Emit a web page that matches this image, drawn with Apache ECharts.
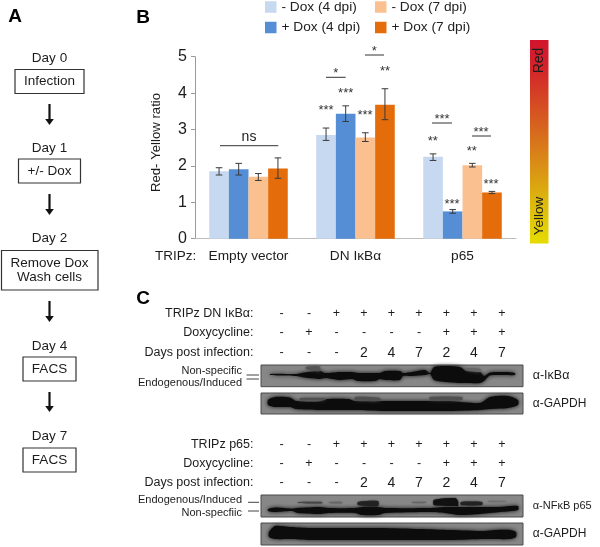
<!DOCTYPE html>
<html><head><meta charset="utf-8">
<style>html,body{margin:0;padding:0;background:#fff}#c{width:600px;height:547px}</style>
<script src="https://cdn.jsdelivr.net/npm/echarts@6/dist/echarts.min.js"></script>
</head><body><div id="c"></div>
<script>
const categories = ['Empty vector', 'DN IκBα', 'p65'];
const seriesNames = ['- Dox (4 dpi)', '+ Dox (4 dpi)', '- Dox (7 dpi)', '+ Dox (7 dpi)'];
const seriesColors = ['#c6d9f0', '#558ed5', '#fac090', '#e46c0a'];
const minusDox4 = [1.85, 2.85, 2.25];
const plusDox4 = [1.91, 3.43, 0.75];
const minusDox7 = [1.70, 2.78, 2.02];
const plusDox7 = [1.93, 3.68, 1.27];
const values = [minusDox4, plusDox4, minusDox7, plusDox7];
const lowMinus4 = [1.75, 2.70, 2.15], highMinus4 = [1.95, 3.04, 2.33];
const lowPlus4 = [1.75, 3.22, 0.70], highPlus4 = [2.07, 3.65, 0.80];
const lowMinus7 = [1.60, 2.67, 1.97], highMinus7 = [1.79, 2.91, 2.07];
const lowPlus7 = [1.66, 3.27, 1.24], highPlus7 = [2.22, 4.12, 1.30];
const lows = [lowMinus4, lowPlus4, lowMinus7, lowPlus7];
const highs = [highMinus4, highPlus4, highMinus7, highPlus7];
const yTicks = [0, 1, 2, 3, 4, 5];
const row1Iκ = ['-', '-', '+', '+', '+', '+', '+', '+', '+'];
const rowDox = ['-', '+', '-', '-', '-', '-', '+', '+', '+'];
const rowDays = ['-', '-', '-', '2', '4', '7', '2', '4', '7'];

const FONT = '"Liberation Sans", Arial, sans-serif';
const INK = '#1c1c1c';
const g = [];
function T(x, y, text, size, align, extra) {
  g.push(Object.assign({ type: 'text', x, y, silent: true, style: {
    text, fontFamily: FONT, fontSize: size, fill: INK, align: align || 'center', verticalAlign: 'middle'
  } }, extra && extra.el || {}));
  if (extra && extra.style) Object.assign(g[g.length - 1].style, extra.style);
}
function L(x1, y1, x2, y2, w, c) {
  g.push({ type: 'line', silent: true, shape: { x1, y1, x2, y2 }, style: { stroke: c || '#2a2a2a', lineWidth: w || 1 } });
}
function R(x1, y1, x2, y2, fill, stroke, w) {
  g.push({ type: 'rect', silent: true, shape: { x: x1, y: y1, width: x2 - x1, height: y2 - y1 },
    style: { fill: fill || '#fff', stroke: stroke || '#2f2f2f', lineWidth: w || 1 } });
}
// Panel letters
T(15, 17, 'A', 19, 'center', { style: { fontWeight: 'bold', fill: '#000' } });
T(143, 18, 'B', 19, 'center', { style: { fontWeight: 'bold', fill: '#000' } });
T(143, 299, 'C', 19, 'center', { style: { fontWeight: 'bold', fill: '#000' } });

// Panel A flow
const flow = [
  { day: 'Day 0', dy: 58, box: [15, 69.5, 84, 93.5], lines: ['Infection'] },
  { day: 'Day 1', dy: 148, box: [18.5, 159, 80.5, 183], lines: ['+/- Dox'] },
  { day: 'Day 2', dy: 238, box: [1.5, 250.5, 98, 290], lines: ['Remove Dox', 'Wash cells'] },
  { day: 'Day 4', dy: 346, box: [23, 357, 76, 381], lines: ['FACS'] },
  { day: 'Day 7', dy: 436, box: [23, 448, 76, 472], lines: ['FACS'] }
];
flow.forEach(f => {
  T(49.5, f.dy, f.day, 13.5);
  R(f.box[0], f.box[1], f.box[2], f.box[3], '#fff', '#333', 1.2);
  const cy = (f.box[1] + f.box[3]) / 2;
  if (f.lines.length === 1) T(49.5, cy, f.lines[0], 13.5);
  else { T(49.5, cy - 7, f.lines[0], 13.5); T(49.5, cy + 7, f.lines[1], 13.5); }
});
[[104, 125], [194, 215], [301, 322], [392, 412]].forEach(a => {
  L(49.5, a[0], 49.5, a[1] - 4, 2.2, '#111');
  g.push({ type: 'polygon', silent: true, shape: { points: [[45.2, a[1] - 6], [53.8, a[1] - 6], [49.5, a[1]]] }, style: { fill: '#111' } });
});

// Panel B extras
T(155, 256.5, 'TRIPz:', 13.5, 'left');
T(156, 142.5, 'Red- Yellow ratio', 13.2, 'center', { el: { rotation: Math.PI / 2 } });
const stars = [
  [335.7, 73, '*'], [374.3, 51, '*'], [385, 71, '**'], [345.7, 93, '***'], [326, 110, '***'], [365, 115, '***'],
  [442, 119, '***'], [481, 132, '***'], [432.7, 141, '**'], [471.7, 151, '**'], [452, 204, '***'], [491, 184, '***']
];
stars.forEach(s => T(s[0], s[1], s[2], 13, 'center', { style: { fill: '#333' } }));
T(249, 137, 'ns', 14);
[[220, 278.3, 145.7], [326, 345.7, 77.3], [365, 384, 55], [432, 452, 123], [472, 491, 136]].forEach(l => L(l[0], l[2], l[1], l[2], 1, '#333'));

// Colour scale
g.push({ type: 'rect', silent: true, shape: { x: 530, y: 40, width: 18.5, height: 203.5 }, style: {
  fill: { type: 'linear', x: 0, y: 0, x2: 0, y2: 1, colorStops: [
    { offset: 0, color: '#d2142d' }, { offset: 0.15, color: '#d3262a' }, { offset: 0.5, color: '#d8741b' },
    { offset: 0.78, color: '#dcb40e' }, { offset: 1, color: '#e6dc00' }] } } });
T(539, 60.5, 'Red', 14, 'center', { el: { rotation: Math.PI / 2 } });
T(539, 216, 'Yellow', 13.5, 'center', { el: { rotation: Math.PI / 2 } });

// Panel C
const laneX = [281.7, 309, 336.5, 364, 391.5, 419, 446.5, 474, 502];
function rows(title, ys) {
  T(253.5, ys[0], title, 12.5, 'right');
  T(253.5, ys[1], 'Doxycycline:', 12.5, 'right');
  T(253.5, ys[2], 'Days post infection:', 12.5, 'right');
  laneX.forEach((x, i) => {
    T(x, ys[0], row1Iκ[i], 12.5);
    T(x, ys[1], rowDox[i], 12.5);
    T(x, ys[2], rowDays[i], rowDays[i] === '-' ? 12.5 : 14);
  });
}
rows('TRIPz DN IκBα:', [314, 333, 352.7]);
rows('TRIPz p65:', [444.3, 463.7, 482.7]);

function blotBg(y1, y2) {
  g.push({ type: 'rect', silent: true, shape: { x: 261, y: y1, width: 262, height: y2 - y1 },
    style: { fill: '#878787', stroke: '#4a4a4a', lineWidth: 1 } });
}
function band(pts, color, blur) {
  const top = pts.map(p => [p[0], p[1]]);
  const bot = pts.map(p => [p[0], p[2]]).reverse();
  g.push({ type: 'polygon', silent: true, shape: { points: top.concat(bot), smooth: 0.25 },
    style: { fill: color || '#0c0c0c', shadowBlur: blur == null ? 4 : blur, shadowColor: color || '#0c0c0c' } });
}
blotBg(365, 386.7);
band([[270, 374, 375], [280, 373.8, 375.5], [296, 374, 376], [305, 372.5, 377.5], [320, 371, 379], [325, 373, 378],
  [340, 372, 380], [352, 372, 379], [358, 373, 381], [375, 373, 381], [380, 373, 379], [385, 371, 380], [400, 371, 380],
  [403, 373, 376], [412, 372, 376], [425, 370, 375], [430, 373, 374], [434, 367, 380], [445, 366, 382], [460, 367, 383],
  [466, 371, 383], [480, 372, 383], [484, 376, 381], [490, 372.5, 375.5], [505, 372, 375], [515, 373, 375]]);
band([[306, 367, 369], [316, 366, 371], [320, 367, 371]], '#555', 3);
band([[466, 368, 370], [480, 369, 372]], '#666', 3);
blotBg(393, 414);
band([[268, 400, 405], [275, 397, 407], [290, 397.5, 407], [296, 401, 409], [320, 401.5, 410], [327, 399, 410], [348, 399, 410], [355, 401, 410],
  [385, 401, 411], [420, 401, 411], [450, 401, 411], [480, 403, 410], [490, 397, 409], [508, 396, 408], [518, 400, 405]]);
band([[300, 398, 400], [325, 398, 400]], '#505050', 3);
band([[355, 397, 400], [380, 398, 401]], '#505050', 3);
band([[430, 397, 400], [462, 397, 400]], '#505050', 3);
blotBg(495, 517);
band([[268, 509, 511], [275, 507.5, 512], [292, 508.5, 511], [298, 508, 513], [320, 507, 514], [328, 508, 513], [355, 508, 513],
  [362, 507, 515], [378, 507, 515], [385, 508, 513], [430, 508, 512], [445, 507, 513], [460, 507, 515], [480, 507, 514],
  [500, 507, 512], [518, 506, 510]]);
band([[298, 502, 503], [322, 502, 503.5]], '#444', 2);
band([[329, 502, 503], [342, 502, 503.5]], '#666', 2);
band([[358, 502, 505], [378, 501, 506]], '#222', 2);
band([[412, 502, 503], [426, 502, 503]], '#666', 2);
band([[434, 500, 505], [455, 498, 506], [458, 501, 506]], '#111', 2);
band([[461, 502, 505], [482, 502, 505]], '#222', 2);
band([[488, 501, 502], [506, 501, 502]], '#707070', 2);
blotBg(523, 545);
band([[269, 532, 537], [275, 526, 539], [290, 527, 539], [310, 528, 540], [345, 528, 540], [380, 528, 540], [420, 529, 540],
  [450, 530, 540], [485, 531, 539], [495, 530, 539], [510, 530, 539], [516, 532, 537]]);

T(242, 370.7, 'Non-specific', 11, 'right');
T(242, 383, 'Endogenous/Induced', 11, 'right');
L(246.5, 375, 259, 375, 1, '#444'); L(246.5, 379, 259, 379, 1, '#444');
T(242, 500, 'Endogenous/Induced', 11, 'right');
T(242, 512.7, 'Non-specfiic', 11, 'right');
L(248, 502.3, 259, 502.3, 1, '#444'); L(248, 511, 259, 511, 1, '#444');
T(532.7, 375.7, 'α-IκBα', 12.5, 'left');
T(532.7, 404, 'α-GAPDH', 12, 'left');
T(532.7, 506, 'α-NFκB p65', 11, 'left');
T(532.7, 534, 'α-GAPDH', 12, 'left');

const chart = echarts.init(document.getElementById('c'), null, { renderer: 'canvas' });
const legendText = { fontFamily: FONT, fontSize: 13.7, color: '#222' };
const offs = [-1.5, -0.5, 0.5, 1.5];
const barShare = 0.1835;
const errorSeries = values.map((_, s) => ({
  type: 'custom', coordinateSystem: 'cartesian2d', silent: true, z: 5,
  encode: { x: 0, y: [1, 2] },
  data: categories.map((_, i) => [i, lows[s][i], highs[s][i]]),
  renderItem: function (params, api) {
    const c = api.value(0);
    const lo = api.coord([c, api.value(1)]);
    const hi = api.coord([c, api.value(2)]);
    const w = api.size([1, 0])[0];
    const x = lo[0] + offs[s] * w * barShare;
    const cap = 3.3;
    const style = { stroke: '#3a3a3a', lineWidth: 1, fill: null };
    return { type: 'group', children: [
      { type: 'line', shape: { x1: x, y1: lo[1], x2: x, y2: hi[1] }, style },
      { type: 'line', shape: { x1: x - cap, y1: lo[1], x2: x + cap, y2: lo[1] }, style },
      { type: 'line', shape: { x1: x - cap, y1: hi[1], x2: x + cap, y2: hi[1] }, style }
    ] };
  }
}));
chart.setOption({
  animation: false,
  backgroundColor: '#fff',
  textStyle: { fontFamily: FONT },
  grid: { left: 195, top: 56.7, width: 321, height: 182 },
  legend: [
    { left: 265, top: 0, padding: 0, orient: 'vertical', itemWidth: 11.5, itemHeight: 11.5, itemGap: 6.5, icon: 'rect',
      data: [seriesNames[0], seriesNames[1]], textStyle: legendText, selectedMode: false },
    { left: 375, top: 0, padding: 0, orient: 'vertical', itemWidth: 11.5, itemHeight: 11.5, itemGap: 6.5, icon: 'rect',
      data: [seriesNames[2], seriesNames[3]], textStyle: legendText, selectedMode: false }
  ],
  xAxis: { type: 'category', data: categories,
    axisLine: { lineStyle: { color: '#bdbdbd' } }, axisTick: { show: false },
    axisLabel: { color: INK, fontFamily: FONT, fontSize: 13.7, margin: 11, interval: 0 } },
  yAxis: { type: 'value', min: yTicks[0], max: yTicks[yTicks.length - 1], interval: 1,
    axisLine: { show: true, lineStyle: { color: '#9a9a9a' } },
    axisTick: { show: true, length: 4, lineStyle: { color: '#9a9a9a' } },
    axisLabel: { color: INK, fontFamily: FONT, fontSize: 16, margin: 8 },
    splitLine: { show: false } },
  series: values.map((v, s) => ({
    name: seriesNames[s], type: 'bar', data: v, barGap: '0%', barCategoryGap: '26.6%',
    itemStyle: { color: seriesColors[s] }, silent: true
  })).concat(errorSeries),
  graphic: g
});
</script></body></html>
